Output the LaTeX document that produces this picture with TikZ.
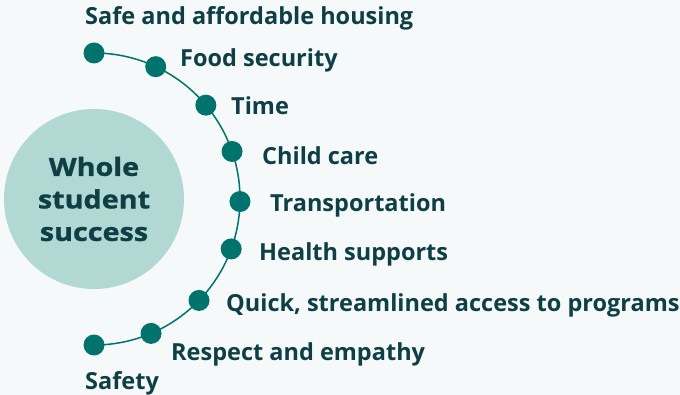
\documentclass[tikz,border=0pt]{standalone}
\usepackage{fontspec}
\setmainfont{Open Sans}
\newfontfamily\corefont[FakeStretch=1.15,FakeBold=1.2]{Open Sans}
\usetikzlibrary{calc}
\definecolor{bgc}{HTML}{F5F9F9}
\definecolor{dotc}{HTML}{00736C}
\definecolor{txtc}{HTML}{0E3F47}
\definecolor{circc}{HTML}{B1D8D3}
\begin{document}
\begin{tikzpicture}[x=1pt,y=-1pt,
  dotnode/.style={circle,fill=dotc,minimum size=21pt,inner sep=0pt},
  lbl/.style={anchor=west,inner sep=0pt,yshift=-2.5pt,text=txtc,font=\fontsize{23.5}{26}\selectfont\bfseries},
  arcline/.style={draw=dotc,line width=1.5pt}]
\fill[bgc] (0,0) rectangle (680,395);
\useasboundingbox (0,0) rectangle (680,395);
\coordinate (c) at (94,199);
\node[circle,fill=circc,minimum size=180pt,inner sep=0pt,text=txtc,align=center,
  font=\corefont\fontsize{25}{32.5}\selectfont\bfseries] (core) at (c) {Whole\\student\\success};
\draw[arcline] (c) ++(-90:146) arc[start angle=-90,end angle=90,radius=146];
\foreach \n/\a in {1/-90,2/-65,3/-40,4/-19,5/1,6/20,7/44,8/67,9/90}{
  \node[dotnode] (d\n) at ($(c)+(\a:146)$) {};
}
\node[lbl] (l1) at (85,16) {Safe and affordable housing};
\node[lbl] (l2) at (180,58) {Food security};
\node[lbl] (l3) at (231,103) {Time};
\node[lbl] (l4) at (262,153) {Child care};
\node[lbl] (l5) at (270,203) {Transportation};
\node[lbl] (l6) at (259,252) {Health supports};
\node[lbl] (l7) at (226,303) {Quick, streamlined access to programs};
\node[lbl] (l8) at (171,352) {Respect and empathy};
\node[lbl] (l9) at (85,381) {Safety};
\end{tikzpicture}
\end{document}
